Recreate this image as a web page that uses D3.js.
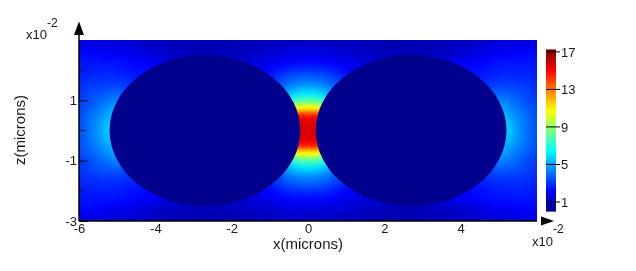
<!DOCTYPE html>
<html><head><meta charset="utf-8">
<script src="https://cdn.jsdelivr.net/npm/d3@7"></script>
<style>
html,body{margin:0;padding:0;background:#fff;width:636px;height:271px;overflow:hidden}
#wrap{position:relative;width:636px;height:271px}
canvas,svg{position:absolute;left:0;top:0}
text{font-family:"Liberation Sans",Arial,sans-serif;fill:#1a1a1a}
</style></head><body><div id="wrap"><canvas id="heat" width="636" height="271"></canvas><svg id="chart" width="636" height="271"></svg></div>
<script>
// Field magnitude, one quadrant (mirrored in x and z, as the picture is)
const xStep = [0,0.25,0.5,0.75,1,1.25,1.5,1.75,2,2.25,2.5,2.75,3,3.25,3.5,3.75,4,4.25,4.5,4.75,5,5.25,5.5,5.75,6];
const zStep = [3,2.75,2.5,2.25,2,1.75,1.5,1.25,1,0.75,0.5,0.25,0];
const fieldRows = [
[1.1,1.1,1.1,1.05,1,1,0.95,0.9,0.85,0.85,0.85,0.85,0.9,0.9,0.95,1,1.1,1.2,1.3,1.4,1.5,1.55,1.6,1.65,1.7],
[1.4,1.35,1.3,1.25,1.2,1.15,1.05,1,0.95,0.9,0.9,0.9,0.95,1,1,1.1,1.2,1.3,1.45,1.6,1.7,1.75,1.85,1.9,2],
[1.8,1.8,1.75,1.65,1.5,1.35,1.25,1.15,1.05,1,0.95,0.95,1,1.1,1.2,1.3,1.45,1.6,1.8,1.95,2.05,2.1,2.2,2.25,2.3],
[2.3,2.3,2.2,2.05,1.85,1.7,1.5,1.4,1.3,1.25,1.25,1.25,1.3,1.4,1.55,1.75,2,2.1,2.2,2.3,2.4,2.4,2.45,2.45,2.45],
[3,2.95,2.8,2.5,2.2,1.95,1.8,1.7,1.6,1.6,1.6,1.6,1.6,1.7,1.85,2,2.2,2.3,2.35,2.5,2.6,2.65,2.65,2.6,2.55],
[3.8,3.7,3.5,3.1,2.7,2.4,2.2,2.1,2,2,2,2,2,2,2.1,2.2,2.4,2.5,2.6,2.75,2.85,2.85,2.85,2.8,2.7],
[4.7,4.55,4.2,3.6,3.2,2.9,2.7,2.5,2.4,2.4,2.4,2.4,2.4,2.4,2.5,2.6,2.7,2.8,2.9,3.1,3.2,3.2,3.15,3.05,2.9],
[6,5.8,5.2,4.3,3.8,3.4,3.1,2.9,2.8,2.8,2.8,2.8,2.8,2.8,2.9,3,3.1,3.2,3.4,3.6,3.8,3.7,3.5,3.3,3],
[7.8,7.7,6.8,5.4,4.5,4,3.6,3.3,3.2,3.2,3.2,3.2,3.2,3.2,3.3,3.4,3.5,3.7,3.9,4.2,4.4,4.1,3.8,3.4,3.1],
[10.8,10.8,8.5,6.5,5.2,4.5,4,3.7,3.6,3.6,3.6,3.6,3.6,3.6,3.7,3.8,3.9,4.1,4.4,4.8,5,4.6,4.1,3.7,3.3],
[14.5,14.5,11,7.5,5.8,4.9,4.3,4,3.9,3.9,3.9,3.9,3.9,3.9,4,4.1,4.2,4.5,4.9,5.3,5.5,5,4.4,3.9,3.4],
[15.6,15.6,12,8,6,5,4.5,4.2,4,4,4,4,4,4,4.1,4.2,4.4,4.7,5.1,5.6,5.9,5.4,4.6,4,3.5],
[15.7,15.7,12.5,8.2,6.1,5.1,4.6,4.3,4.1,4,4,4,4,4.1,4.2,4.3,4.5,4.8,5.2,5.7,6,5.6,4.7,4,3.5]
];
// Spheres
const sphereCentres = [-2.7, 2.7];
const sphereRadius = [2.5];
const sphereValue = [0.2];
// Axes
const xTicks = [-6,-4,-2,0,2,4];
const xMinor = [-5,-3,-1,1,3,5];
const zTicks = [-3,-1,1];
const zMinor = [-2,0,2];
const barTicks = [1,5,9,13,17];
const labels = ["x(microns)","z(microns)","x10","-2"];

const X = d3.scaleLinear().domain([-6,6]).range([79,537]);
const Z = d3.scaleLinear().domain([-3,3]).range([221,40]);
const B = d3.scaleLinear().domain([0.04,17.2]).range([211,50]);

// Jet colour map
const jetStops = ["#000080","#0000ff","#00ffff","#ffff00","#ff0000","#800000"];
const jetAt = [0,0.125,0.375,0.625,0.875,1];
const valueToJet = d3.scaleLinear().domain([0,17.2]).range([0,1]).clamp(true);
const jetScale = d3.scaleLinear().domain(jetAt).range(jetStops).interpolate(d3.interpolateRgb);
const colour = v => jetScale(valueToJet(v));

// Mirror the quadrant into the full field
const fullXIdx = d3.range(-xStep.length+1, xStep.length).map(Math.abs);
const fullZIdx = zStep.map((_,i)=>i).concat(zStep.slice(0,-1).map((_,i)=>zStep.length-2-i));
const src = document.createElement("canvas");
src.width = fullXIdx.length; src.height = fullZIdx.length;
const sc = src.getContext("2d");
fullZIdx.forEach((zi,r)=>fullXIdx.forEach((xi,c)=>{
  sc.fillStyle = colour(fieldRows[zi][xi]);
  sc.fillRect(c,r,1,1);
}));
const ctx = document.getElementById("heat").getContext("2d");
ctx.save();
ctx.beginPath();
ctx.rect(X(-6),Z(3),X(6)-X(-6),Z(-3)-Z(3));
ctx.clip();
ctx.imageSmoothingEnabled = true;
ctx.imageSmoothingQuality = "high";
ctx.drawImage(src, X(-6.125), Z(3.125), X(6.125)-X(-6.125), Z(-3.125)-Z(3.125));
ctx.restore();

const svg = d3.select("#chart");
// Spheres
svg.selectAll("ellipse.sphere").data(sphereCentres).join("ellipse")
  .attr("class","sphere")
  .attr("cx",d=>X(d)).attr("cy",Z(0))
  .attr("rx",X(sphereRadius[0])-X(0)).attr("ry",Z(0)-Z(sphereRadius[0]))
  .attr("fill",colour(sphereValue[0]));

// Axes
const fmt = d=>String(d);
const gx = svg.append("g").attr("transform",`translate(0,${Z(-3)})`)
  .call(d3.axisBottom(X).tickValues(xTicks).tickSize(-7).tickPadding(3).tickFormat(fmt));
const gz = svg.append("g").attr("transform",`translate(${X(-6)},0)`)
  .call(d3.axisLeft(Z).tickValues(zTicks).tickSize(-9).tickPadding(2).tickFormat(fmt));
[gx,gz].forEach(g=>{
  g.selectAll("text").attr("font-size",13).attr("font-family",null);
  g.attr("font-family",null);
});
gz.selectAll(".tick text").attr("x",-2);
gx.selectAll(".tick line").attr("stroke","#000").attr("stroke-opacity",0.35);
gz.selectAll(".tick line").attr("stroke","#000").attr("stroke-opacity",0.85);
gx.select(".domain").attr("stroke","#000").attr("stroke-width",1.5).attr("d",`M${X(-6)},0H${X(6)}`);
gz.select(".domain").attr("stroke","#000").attr("stroke-width",1.5).attr("d",`M0,${Z(3)-6}V${Z(-3)}`);
svg.selectAll("line.mx").data(xMinor).join("line").attr("class","mx")
  .attr("x1",X).attr("x2",X).attr("y1",Z(-3)).attr("y2",Z(-3)-5)
  .attr("stroke","#000").attr("stroke-opacity",0.3);
svg.selectAll("line.mz").data(zMinor).join("line").attr("class","mz")
  .attr("x1",X(-6)).attr("x2",X(-6)+7).attr("y1",Z).attr("y2",Z)
  .attr("stroke","#000").attr("stroke-opacity",0.55);

// Arrow heads
svg.append("path").attr("fill","#000")
  .attr("d",`M${X(-6)},21.5L${X(-6)+5},35H${X(-6)-5}Z`);
svg.append("path").attr("fill","#000")
  .attr("d",`M554,${Z(-3)}L541,${Z(-3)-4.5}V${Z(-3)+4.5}Z`);

// Axis titles and multipliers
svg.append("text").attr("x",X(0)).attr("y",249).attr("text-anchor","middle").attr("font-size",15).text(labels[0]);
svg.append("text").attr("transform",`translate(25,130) rotate(-90)`).attr("text-anchor","middle").attr("font-size",15).text(labels[1]);
svg.append("text").attr("x",26).attr("y",39).attr("font-size",13).text(labels[2]);
svg.append("text").attr("x",47).attr("y",27).attr("font-size",12).text(labels[3]);
svg.append("text").attr("x",532).attr("y",246).attr("font-size",13).text(labels[2]);
svg.append("text").attr("x",553).attr("y",233).attr("font-size",12).text(labels[3]);

// Colour bar
const barRows = d3.range(0.04,17.2,0.107);
svg.selectAll("rect.bar").data(barRows).join("rect").attr("class","bar")
  .attr("x",546).attr("width",10)
  .attr("y",d=>B(d)-1).attr("height",1.6)
  .attr("fill",colour);
const bar = svg.append("g");
bar.selectAll("line").data(barTicks).join("line")
  .attr("x1",546).attr("x2",560).attr("y1",B).attr("y2",B).attr("stroke","#000");
bar.selectAll("text").data(barTicks).join("text")
  .attr("x",561).attr("y",d=>B(d)+5).attr("font-size",13).text(fmt);
</script></body></html>
